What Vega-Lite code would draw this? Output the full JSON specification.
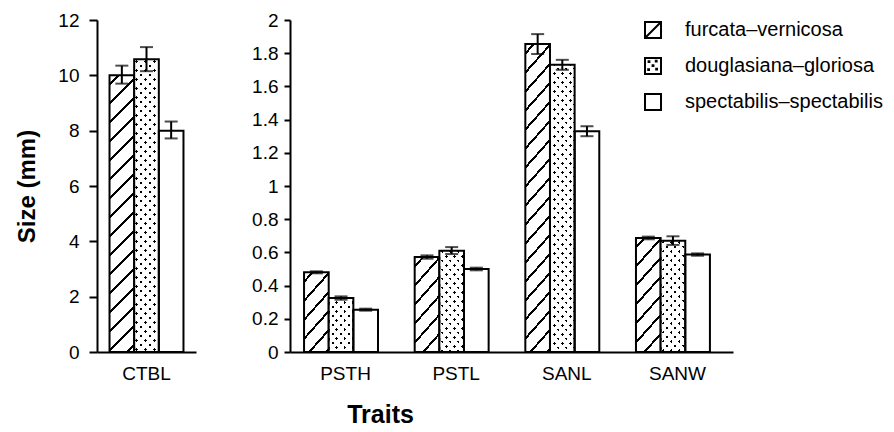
{
"$schema": "https://vega.github.io/schema/vega-lite/v6.json",
"background": "white",
"padding": {"left": 15, "top": 11, "right": 2, "bottom": 2},
"params": [
{"name": "hatchStops", "value": [
{"offset":0.021,"color":"#fff"},{"offset":0.021,"color":"#000"},{"offset":0.029,"color":"#000"},{"offset":0.029,"color":"#fff"},
{"offset":0.071,"color":"#fff"},{"offset":0.071,"color":"#000"},{"offset":0.079,"color":"#000"},{"offset":0.079,"color":"#fff"},
{"offset":0.121,"color":"#fff"},{"offset":0.121,"color":"#000"},{"offset":0.129,"color":"#000"},{"offset":0.129,"color":"#fff"},
{"offset":0.171,"color":"#fff"},{"offset":0.171,"color":"#000"},{"offset":0.179,"color":"#000"},{"offset":0.179,"color":"#fff"},
{"offset":0.221,"color":"#fff"},{"offset":0.221,"color":"#000"},{"offset":0.229,"color":"#000"},{"offset":0.229,"color":"#fff"},
{"offset":0.271,"color":"#fff"},{"offset":0.271,"color":"#000"},{"offset":0.279,"color":"#000"},{"offset":0.279,"color":"#fff"},
{"offset":0.321,"color":"#fff"},{"offset":0.321,"color":"#000"},{"offset":0.329,"color":"#000"},{"offset":0.329,"color":"#fff"},
{"offset":0.371,"color":"#fff"},{"offset":0.371,"color":"#000"},{"offset":0.379,"color":"#000"},{"offset":0.379,"color":"#fff"},
{"offset":0.421,"color":"#fff"},{"offset":0.421,"color":"#000"},{"offset":0.429,"color":"#000"},{"offset":0.429,"color":"#fff"},
{"offset":0.471,"color":"#fff"},{"offset":0.471,"color":"#000"},{"offset":0.479,"color":"#000"},{"offset":0.479,"color":"#fff"},
{"offset":0.521,"color":"#fff"},{"offset":0.521,"color":"#000"},{"offset":0.529,"color":"#000"},{"offset":0.529,"color":"#fff"},
{"offset":0.571,"color":"#fff"},{"offset":0.571,"color":"#000"},{"offset":0.579,"color":"#000"},{"offset":0.579,"color":"#fff"},
{"offset":0.621,"color":"#fff"},{"offset":0.621,"color":"#000"},{"offset":0.629,"color":"#000"},{"offset":0.629,"color":"#fff"},
{"offset":0.671,"color":"#fff"},{"offset":0.671,"color":"#000"},{"offset":0.679,"color":"#000"},{"offset":0.679,"color":"#fff"},
{"offset":0.721,"color":"#fff"},{"offset":0.721,"color":"#000"},{"offset":0.729,"color":"#000"},{"offset":0.729,"color":"#fff"},
{"offset":0.771,"color":"#fff"},{"offset":0.771,"color":"#000"},{"offset":0.779,"color":"#000"},{"offset":0.779,"color":"#fff"},
{"offset":0.821,"color":"#fff"},{"offset":0.821,"color":"#000"},{"offset":0.829,"color":"#000"},{"offset":0.829,"color":"#fff"},
{"offset":0.871,"color":"#fff"},{"offset":0.871,"color":"#000"},{"offset":0.879,"color":"#000"},{"offset":0.879,"color":"#fff"},
{"offset":0.921,"color":"#fff"},{"offset":0.921,"color":"#000"},{"offset":0.929,"color":"#000"},{"offset":0.929,"color":"#fff"}
]},
{"name": "dotStopsA", "value": [
{"offset":0.0085,"color":"#fff"},{"offset":0.0085,"color":"#000"},{"offset":0.0165,"color":"#000"},{"offset":0.0165,"color":"#fff"},
{"offset":0.0335,"color":"#fff"},{"offset":0.0335,"color":"#000"},{"offset":0.0415,"color":"#000"},{"offset":0.0415,"color":"#fff"},
{"offset":0.0585,"color":"#fff"},{"offset":0.0585,"color":"#000"},{"offset":0.0665,"color":"#000"},{"offset":0.0665,"color":"#fff"},
{"offset":0.0835,"color":"#fff"},{"offset":0.0835,"color":"#000"},{"offset":0.0915,"color":"#000"},{"offset":0.0915,"color":"#fff"},
{"offset":0.1085,"color":"#fff"},{"offset":0.1085,"color":"#000"},{"offset":0.1165,"color":"#000"},{"offset":0.1165,"color":"#fff"},
{"offset":0.1335,"color":"#fff"},{"offset":0.1335,"color":"#000"},{"offset":0.1415,"color":"#000"},{"offset":0.1415,"color":"#fff"},
{"offset":0.1585,"color":"#fff"},{"offset":0.1585,"color":"#000"},{"offset":0.1665,"color":"#000"},{"offset":0.1665,"color":"#fff"},
{"offset":0.1835,"color":"#fff"},{"offset":0.1835,"color":"#000"},{"offset":0.1915,"color":"#000"},{"offset":0.1915,"color":"#fff"},
{"offset":0.2085,"color":"#fff"},{"offset":0.2085,"color":"#000"},{"offset":0.2165,"color":"#000"},{"offset":0.2165,"color":"#fff"},
{"offset":0.2335,"color":"#fff"},{"offset":0.2335,"color":"#000"},{"offset":0.2415,"color":"#000"},{"offset":0.2415,"color":"#fff"},
{"offset":0.2585,"color":"#fff"},{"offset":0.2585,"color":"#000"},{"offset":0.2665,"color":"#000"},{"offset":0.2665,"color":"#fff"},
{"offset":0.2835,"color":"#fff"},{"offset":0.2835,"color":"#000"},{"offset":0.2915,"color":"#000"},{"offset":0.2915,"color":"#fff"},
{"offset":0.3085,"color":"#fff"},{"offset":0.3085,"color":"#000"},{"offset":0.3165,"color":"#000"},{"offset":0.3165,"color":"#fff"},
{"offset":0.3335,"color":"#fff"},{"offset":0.3335,"color":"#000"},{"offset":0.3415,"color":"#000"},{"offset":0.3415,"color":"#fff"},
{"offset":0.3585,"color":"#fff"},{"offset":0.3585,"color":"#000"},{"offset":0.3665,"color":"#000"},{"offset":0.3665,"color":"#fff"},
{"offset":0.3835,"color":"#fff"},{"offset":0.3835,"color":"#000"},{"offset":0.3915,"color":"#000"},{"offset":0.3915,"color":"#fff"},
{"offset":0.4085,"color":"#fff"},{"offset":0.4085,"color":"#000"},{"offset":0.4165,"color":"#000"},{"offset":0.4165,"color":"#fff"},
{"offset":0.4335,"color":"#fff"},{"offset":0.4335,"color":"#000"},{"offset":0.4415,"color":"#000"},{"offset":0.4415,"color":"#fff"},
{"offset":0.4585,"color":"#fff"},{"offset":0.4585,"color":"#000"},{"offset":0.4665,"color":"#000"},{"offset":0.4665,"color":"#fff"},
{"offset":0.4835,"color":"#fff"},{"offset":0.4835,"color":"#000"},{"offset":0.4915,"color":"#000"},{"offset":0.4915,"color":"#fff"},
{"offset":0.5085,"color":"#fff"},{"offset":0.5085,"color":"#000"},{"offset":0.5165,"color":"#000"},{"offset":0.5165,"color":"#fff"},
{"offset":0.5335,"color":"#fff"},{"offset":0.5335,"color":"#000"},{"offset":0.5415,"color":"#000"},{"offset":0.5415,"color":"#fff"},
{"offset":0.5585,"color":"#fff"},{"offset":0.5585,"color":"#000"},{"offset":0.5665,"color":"#000"},{"offset":0.5665,"color":"#fff"},
{"offset":0.5835,"color":"#fff"},{"offset":0.5835,"color":"#000"},{"offset":0.5915,"color":"#000"},{"offset":0.5915,"color":"#fff"},
{"offset":0.6085,"color":"#fff"},{"offset":0.6085,"color":"#000"},{"offset":0.6165,"color":"#000"},{"offset":0.6165,"color":"#fff"},
{"offset":0.6335,"color":"#fff"},{"offset":0.6335,"color":"#000"},{"offset":0.6415,"color":"#000"},{"offset":0.6415,"color":"#fff"},
{"offset":0.6585,"color":"#fff"},{"offset":0.6585,"color":"#000"},{"offset":0.6665,"color":"#000"},{"offset":0.6665,"color":"#fff"},
{"offset":0.6835,"color":"#fff"},{"offset":0.6835,"color":"#000"},{"offset":0.6915,"color":"#000"},{"offset":0.6915,"color":"#fff"},
{"offset":0.7085,"color":"#fff"},{"offset":0.7085,"color":"#000"},{"offset":0.7165,"color":"#000"},{"offset":0.7165,"color":"#fff"},
{"offset":0.7335,"color":"#fff"},{"offset":0.7335,"color":"#000"},{"offset":0.7415,"color":"#000"},{"offset":0.7415,"color":"#fff"},
{"offset":0.7585,"color":"#fff"},{"offset":0.7585,"color":"#000"},{"offset":0.7665,"color":"#000"},{"offset":0.7665,"color":"#fff"},
{"offset":0.7835,"color":"#fff"},{"offset":0.7835,"color":"#000"},{"offset":0.7915,"color":"#000"},{"offset":0.7915,"color":"#fff"},
{"offset":0.8085,"color":"#fff"},{"offset":0.8085,"color":"#000"},{"offset":0.8165,"color":"#000"},{"offset":0.8165,"color":"#fff"},
{"offset":0.8335,"color":"#fff"},{"offset":0.8335,"color":"#000"},{"offset":0.8415,"color":"#000"},{"offset":0.8415,"color":"#fff"},
{"offset":0.8585,"color":"#fff"},{"offset":0.8585,"color":"#000"},{"offset":0.8665,"color":"#000"},{"offset":0.8665,"color":"#fff"},
{"offset":0.8835,"color":"#fff"},{"offset":0.8835,"color":"#000"},{"offset":0.8915,"color":"#000"},{"offset":0.8915,"color":"#fff"},
{"offset":0.9085,"color":"#fff"},{"offset":0.9085,"color":"#000"},{"offset":0.9165,"color":"#000"},{"offset":0.9165,"color":"#fff"}
]},
{"name": "dotStopsB", "value": [
{"offset":0.0085,"color":"#fff"},{"offset":0.0085,"color":"rgba(255,255,255,0)"},{"offset":0.0165,"color":"rgba(255,255,255,0)"},{"offset":0.0165,"color":"#fff"},
{"offset":0.0335,"color":"#fff"},{"offset":0.0335,"color":"rgba(255,255,255,0)"},{"offset":0.0415,"color":"rgba(255,255,255,0)"},{"offset":0.0415,"color":"#fff"},
{"offset":0.0585,"color":"#fff"},{"offset":0.0585,"color":"rgba(255,255,255,0)"},{"offset":0.0665,"color":"rgba(255,255,255,0)"},{"offset":0.0665,"color":"#fff"},
{"offset":0.0835,"color":"#fff"},{"offset":0.0835,"color":"rgba(255,255,255,0)"},{"offset":0.0915,"color":"rgba(255,255,255,0)"},{"offset":0.0915,"color":"#fff"},
{"offset":0.1085,"color":"#fff"},{"offset":0.1085,"color":"rgba(255,255,255,0)"},{"offset":0.1165,"color":"rgba(255,255,255,0)"},{"offset":0.1165,"color":"#fff"},
{"offset":0.1335,"color":"#fff"},{"offset":0.1335,"color":"rgba(255,255,255,0)"},{"offset":0.1415,"color":"rgba(255,255,255,0)"},{"offset":0.1415,"color":"#fff"},
{"offset":0.1585,"color":"#fff"},{"offset":0.1585,"color":"rgba(255,255,255,0)"},{"offset":0.1665,"color":"rgba(255,255,255,0)"},{"offset":0.1665,"color":"#fff"},
{"offset":0.1835,"color":"#fff"},{"offset":0.1835,"color":"rgba(255,255,255,0)"},{"offset":0.1915,"color":"rgba(255,255,255,0)"},{"offset":0.1915,"color":"#fff"},
{"offset":0.2085,"color":"#fff"},{"offset":0.2085,"color":"rgba(255,255,255,0)"},{"offset":0.2165,"color":"rgba(255,255,255,0)"},{"offset":0.2165,"color":"#fff"},
{"offset":0.2335,"color":"#fff"},{"offset":0.2335,"color":"rgba(255,255,255,0)"},{"offset":0.2415,"color":"rgba(255,255,255,0)"},{"offset":0.2415,"color":"#fff"},
{"offset":0.2585,"color":"#fff"},{"offset":0.2585,"color":"rgba(255,255,255,0)"},{"offset":0.2665,"color":"rgba(255,255,255,0)"},{"offset":0.2665,"color":"#fff"},
{"offset":0.2835,"color":"#fff"},{"offset":0.2835,"color":"rgba(255,255,255,0)"},{"offset":0.2915,"color":"rgba(255,255,255,0)"},{"offset":0.2915,"color":"#fff"},
{"offset":0.3085,"color":"#fff"},{"offset":0.3085,"color":"rgba(255,255,255,0)"},{"offset":0.3165,"color":"rgba(255,255,255,0)"},{"offset":0.3165,"color":"#fff"},
{"offset":0.3335,"color":"#fff"},{"offset":0.3335,"color":"rgba(255,255,255,0)"},{"offset":0.3415,"color":"rgba(255,255,255,0)"},{"offset":0.3415,"color":"#fff"},
{"offset":0.3585,"color":"#fff"},{"offset":0.3585,"color":"rgba(255,255,255,0)"},{"offset":0.3665,"color":"rgba(255,255,255,0)"},{"offset":0.3665,"color":"#fff"},
{"offset":0.3835,"color":"#fff"},{"offset":0.3835,"color":"rgba(255,255,255,0)"},{"offset":0.3915,"color":"rgba(255,255,255,0)"},{"offset":0.3915,"color":"#fff"},
{"offset":0.4085,"color":"#fff"},{"offset":0.4085,"color":"rgba(255,255,255,0)"},{"offset":0.4165,"color":"rgba(255,255,255,0)"},{"offset":0.4165,"color":"#fff"},
{"offset":0.4335,"color":"#fff"},{"offset":0.4335,"color":"rgba(255,255,255,0)"},{"offset":0.4415,"color":"rgba(255,255,255,0)"},{"offset":0.4415,"color":"#fff"},
{"offset":0.4585,"color":"#fff"},{"offset":0.4585,"color":"rgba(255,255,255,0)"},{"offset":0.4665,"color":"rgba(255,255,255,0)"},{"offset":0.4665,"color":"#fff"},
{"offset":0.4835,"color":"#fff"},{"offset":0.4835,"color":"rgba(255,255,255,0)"},{"offset":0.4915,"color":"rgba(255,255,255,0)"},{"offset":0.4915,"color":"#fff"},
{"offset":0.5085,"color":"#fff"},{"offset":0.5085,"color":"rgba(255,255,255,0)"},{"offset":0.5165,"color":"rgba(255,255,255,0)"},{"offset":0.5165,"color":"#fff"},
{"offset":0.5335,"color":"#fff"},{"offset":0.5335,"color":"rgba(255,255,255,0)"},{"offset":0.5415,"color":"rgba(255,255,255,0)"},{"offset":0.5415,"color":"#fff"},
{"offset":0.5585,"color":"#fff"},{"offset":0.5585,"color":"rgba(255,255,255,0)"},{"offset":0.5665,"color":"rgba(255,255,255,0)"},{"offset":0.5665,"color":"#fff"},
{"offset":0.5835,"color":"#fff"},{"offset":0.5835,"color":"rgba(255,255,255,0)"},{"offset":0.5915,"color":"rgba(255,255,255,0)"},{"offset":0.5915,"color":"#fff"},
{"offset":0.6085,"color":"#fff"},{"offset":0.6085,"color":"rgba(255,255,255,0)"},{"offset":0.6165,"color":"rgba(255,255,255,0)"},{"offset":0.6165,"color":"#fff"},
{"offset":0.6335,"color":"#fff"},{"offset":0.6335,"color":"rgba(255,255,255,0)"},{"offset":0.6415,"color":"rgba(255,255,255,0)"},{"offset":0.6415,"color":"#fff"},
{"offset":0.6585,"color":"#fff"},{"offset":0.6585,"color":"rgba(255,255,255,0)"},{"offset":0.6665,"color":"rgba(255,255,255,0)"},{"offset":0.6665,"color":"#fff"},
{"offset":0.6835,"color":"#fff"},{"offset":0.6835,"color":"rgba(255,255,255,0)"},{"offset":0.6915,"color":"rgba(255,255,255,0)"},{"offset":0.6915,"color":"#fff"},
{"offset":0.7085,"color":"#fff"},{"offset":0.7085,"color":"rgba(255,255,255,0)"},{"offset":0.7165,"color":"rgba(255,255,255,0)"},{"offset":0.7165,"color":"#fff"},
{"offset":0.7335,"color":"#fff"},{"offset":0.7335,"color":"rgba(255,255,255,0)"},{"offset":0.7415,"color":"rgba(255,255,255,0)"},{"offset":0.7415,"color":"#fff"},
{"offset":0.7585,"color":"#fff"},{"offset":0.7585,"color":"rgba(255,255,255,0)"},{"offset":0.7665,"color":"rgba(255,255,255,0)"},{"offset":0.7665,"color":"#fff"},
{"offset":0.7835,"color":"#fff"},{"offset":0.7835,"color":"rgba(255,255,255,0)"},{"offset":0.7915,"color":"rgba(255,255,255,0)"},{"offset":0.7915,"color":"#fff"},
{"offset":0.8085,"color":"#fff"},{"offset":0.8085,"color":"rgba(255,255,255,0)"},{"offset":0.8165,"color":"rgba(255,255,255,0)"},{"offset":0.8165,"color":"#fff"},
{"offset":0.8335,"color":"#fff"},{"offset":0.8335,"color":"rgba(255,255,255,0)"},{"offset":0.8415,"color":"rgba(255,255,255,0)"},{"offset":0.8415,"color":"#fff"},
{"offset":0.8585,"color":"#fff"},{"offset":0.8585,"color":"rgba(255,255,255,0)"},{"offset":0.8665,"color":"rgba(255,255,255,0)"},{"offset":0.8665,"color":"#fff"},
{"offset":0.8835,"color":"#fff"},{"offset":0.8835,"color":"rgba(255,255,255,0)"},{"offset":0.8915,"color":"rgba(255,255,255,0)"},{"offset":0.8915,"color":"#fff"},
{"offset":0.9085,"color":"#fff"},{"offset":0.9085,"color":"rgba(255,255,255,0)"},{"offset":0.9165,"color":"rgba(255,255,255,0)"},{"offset":0.9165,"color":"#fff"}
]}
],
"data": {"values": [
{"trait":"CTBL","series":"furcata–vernicosa","mean":10.0,"lo":9.7,"hi":10.35},
{"trait":"CTBL","series":"douglasiana–gloriosa","mean":10.58,"lo":10.15,"hi":11.02},
{"trait":"CTBL","series":"spectabilis–spectabilis","mean":8.0,"lo":7.72,"hi":8.33},
{"trait":"PSTH","series":"furcata–vernicosa","mean":0.48,"lo":0.474,"hi":0.486},
{"trait":"PSTH","series":"douglasiana–gloriosa","mean":0.325,"lo":0.315,"hi":0.335},
{"trait":"PSTH","series":"spectabilis–spectabilis","mean":0.255,"lo":0.249,"hi":0.261},
{"trait":"PSTL","series":"furcata–vernicosa","mean":0.572,"lo":0.562,"hi":0.582},
{"trait":"PSTL","series":"douglasiana–gloriosa","mean":0.61,"lo":0.59,"hi":0.632},
{"trait":"PSTL","series":"spectabilis–spectabilis","mean":0.5,"lo":0.492,"hi":0.508},
{"trait":"SANL","series":"furcata–vernicosa","mean":1.855,"lo":1.795,"hi":1.915},
{"trait":"SANL","series":"douglasiana–gloriosa","mean":1.73,"lo":1.7,"hi":1.76},
{"trait":"SANL","series":"spectabilis–spectabilis","mean":1.33,"lo":1.3,"hi":1.36},
{"trait":"SANW","series":"furcata–vernicosa","mean":0.687,"lo":0.679,"hi":0.695},
{"trait":"SANW","series":"douglasiana–gloriosa","mean":0.67,"lo":0.645,"hi":0.697},
{"trait":"SANW","series":"spectabilis–spectabilis","mean":0.587,"lo":0.58,"hi":0.594}
]},
"spacing": 55,
"hconcat": [
{
"width": 99, "height": 332,
"transform": [{"filter": "datum.trait === 'CTBL'"}],
"encoding": {
"x": {"field": "trait", "type": "nominal", "title": null, "scale": {"paddingInner": 0.25, "paddingOuter": 0.127}, "axis": {"ticks": false, "labelAngle": 0, "labelPadding": 12}},
"xOffset": {"field": "series", "type": "nominal", "scale": {"domain": ["furcata–vernicosa", "douglasiana–gloriosa", "spectabilis–spectabilis"], "paddingInner": 0, "paddingOuter": 0}}
},
"layer": [
{"mark": {"type": "bar", "strokeWidth": 0, "fill": {"expr": "datum.series === 'furcata–vernicosa' ? {gradient: 'linear', x1: 0, y1: 0, x2: 380 * 24.65 / (607.62 + pow(27.667 * datum.mean, 2)), y2: 380 * 27.667 * datum.mean / (607.62 + pow(27.667 * datum.mean, 2)), stops: hatchStops} : datum.series === 'douglasiana–gloriosa' ? {gradient: 'linear', x1: 0, y1: 0, x2: 360 * 24.65 / (607.62 + pow(27.667 * datum.mean, 2)), y2: 360 * 27.667 * datum.mean / (607.62 + pow(27.667 * datum.mean, 2)), stops: dotStopsA} : '#ffffff'"}},
 "encoding": {"y": {"field": "mean", "type": "quantitative", "title": "Size (mm)", "scale": {"domain": [0, 12], "nice": false}, "axis": {"values": [0, 2, 4, 6, 8, 10, 12], "tickSize": 8, "labelPadding": 10, "titlePadding": 18}}}},
{"mark": {"type": "bar", "stroke": "black", "strokeWidth": 2, "fill": {"expr": "datum.series === 'douglasiana–gloriosa' ? {gradient: 'linear', x1: 0, y1: 1, x2: 360 * 24.65 / (607.62 + pow(27.667 * datum.mean, 2)), y2: 1 - 360 * 27.667 * datum.mean / (607.62 + pow(27.667 * datum.mean, 2)), stops: dotStopsB} : 'rgba(0,0,0,0)'"}},
 "encoding": {"y": {"field": "mean", "type": "quantitative", "title": "Size (mm)", "scale": {"domain": [0, 12], "nice": false}, "axis": {"values": [0, 2, 4, 6, 8, 10, 12], "tickSize": 8, "labelPadding": 10, "titlePadding": 18}}}},
{"mark": {"type": "rule", "color": "black", "strokeWidth": 2},
 "encoding": {"y": {"field": "lo", "type": "quantitative", "title": "Size (mm)", "scale": {"domain": [0, 12], "nice": false}, "axis": {"values": [0, 2, 4, 6, 8, 10, 12], "tickSize": 8, "labelPadding": 10, "titlePadding": 18}}, "y2": {"field": "hi"}}},
{"mark": {"type": "tick", "color": "black", "thickness": 2, "size": 13, "orient": "horizontal"},
 "encoding": {"y": {"field": "hi", "type": "quantitative", "title": "Size (mm)", "scale": {"domain": [0, 12], "nice": false}, "axis": {"values": [0, 2, 4, 6, 8, 10, 12], "tickSize": 8, "labelPadding": 10, "titlePadding": 18}}}},
{"mark": {"type": "tick", "color": "black", "thickness": 2, "size": 13, "orient": "horizontal"},
 "encoding": {"y": {"field": "lo", "type": "quantitative", "title": "Size (mm)", "scale": {"domain": [0, 12], "nice": false}, "axis": {"values": [0, 2, 4, 6, 8, 10, 12], "tickSize": 8, "labelPadding": 10, "titlePadding": 18}}}}
]
},
{
"width": 443, "height": 332,
"transform": [{"filter": "datum.trait !== 'CTBL'"}],
"encoding": {
"x": {"field": "trait", "type": "nominal", "title": "Traits", "scale": {"paddingInner": 0.25, "paddingOuter": 0.127}, "axis": {"ticks": false, "labelAngle": 0, "labelPadding": 12, "titleX": 90, "titlePadding": 19}},
"xOffset": {"field": "series", "type": "nominal", "scale": {"domain": ["furcata–vernicosa", "douglasiana–gloriosa", "spectabilis–spectabilis"], "paddingInner": 0, "paddingOuter": 0}}
},
"layer": [
{"mark": {"type": "bar", "strokeWidth": 0, "fill": {"expr": "datum.series === 'furcata–vernicosa' ? {gradient: 'linear', x1: 0, y1: 0, x2: 380 * 27.66 / (765.08 + pow(166 * datum.mean, 2)), y2: 380 * 166 * datum.mean / (765.08 + pow(166 * datum.mean, 2)), stops: hatchStops} : datum.series === 'douglasiana–gloriosa' ? {gradient: 'linear', x1: 0, y1: 0, x2: 360 * 27.66 / (765.08 + pow(166 * datum.mean, 2)), y2: 360 * 166 * datum.mean / (765.08 + pow(166 * datum.mean, 2)), stops: dotStopsA} : '#ffffff'"}},
 "encoding": {"y": {"field": "mean", "type": "quantitative", "title": null, "scale": {"domain": [0, 2], "nice": false}, "axis": {"values": [0, 0.2, 0.4, 0.6, 0.8, 1, 1.2, 1.4, 1.6, 1.8, 2], "format": ".1~f", "tickSize": 6, "labelPadding": 6}}}},
{"mark": {"type": "bar", "stroke": "black", "strokeWidth": 2, "fill": {"expr": "datum.series === 'douglasiana–gloriosa' ? {gradient: 'linear', x1: 0, y1: 1, x2: 360 * 27.66 / (765.08 + pow(166 * datum.mean, 2)), y2: 1 - 360 * 166 * datum.mean / (765.08 + pow(166 * datum.mean, 2)), stops: dotStopsB} : 'rgba(0,0,0,0)'"}},
 "encoding": {"y": {"field": "mean", "type": "quantitative", "title": null, "scale": {"domain": [0, 2], "nice": false}, "axis": {"values": [0, 0.2, 0.4, 0.6, 0.8, 1, 1.2, 1.4, 1.6, 1.8, 2], "format": ".1~f", "tickSize": 6, "labelPadding": 6}}}},
{"mark": {"type": "point", "color": "black", "opacity": 0, "strokeWidth": 2, "size": 256},
 "encoding": {
  "y": {"field": "mean", "type": "quantitative", "title": null, "scale": {"domain": [0, 2], "nice": false}, "axis": {"values": [0, 0.2, 0.4, 0.6, 0.8, 1, 1.2, 1.4, 1.6, 1.8, 2], "format": ".1~f", "tickSize": 6, "labelPadding": 6}},
  "shape": {"field": "series", "type": "nominal", "scale": {"domain": ["furcata–vernicosa", "douglasiana–gloriosa", "spectabilis–spectabilis"], "range": ["M-1,-1H1V1H-1ZM-1,1L1,-1", "M-1,-1H1V1H-1ZM-0.55,-0.6h0.1v0.1h-0.1zM0.35,-0.65h0.1v0.1h-0.1zM-0.05,-0.1h0.1v0.1h-0.1zM-0.6,0.4h0.1v0.1h-0.1zM0.4,0.35h0.1v0.1h-0.1z", "M-1,-1H1V1H-1Z"]},
   "legend": {"orient": "right", "offset": -90, "title": null, "padding": 0, "symbolSize": 256, "symbolStrokeColor": "black", "symbolStrokeWidth": 2, "symbolFillColor": "transparent", "symbolOpacity": 1, "labelFontSize": 20, "labelFont": "Liberation Sans", "labelColor": "black", "labelOffset": 22, "rowPadding": 12, "labelLimit": 400}}
 }},
{"mark": {"type": "rule", "color": "black", "strokeWidth": 2},
 "encoding": {"y": {"field": "lo", "type": "quantitative", "title": null, "scale": {"domain": [0, 2], "nice": false}, "axis": {"values": [0, 0.2, 0.4, 0.6, 0.8, 1, 1.2, 1.4, 1.6, 1.8, 2], "format": ".1~f", "tickSize": 6, "labelPadding": 6}}, "y2": {"field": "hi"}}},
{"mark": {"type": "tick", "color": "black", "thickness": 2, "size": 13, "orient": "horizontal"},
 "encoding": {"y": {"field": "hi", "type": "quantitative", "title": null, "scale": {"domain": [0, 2], "nice": false}, "axis": {"values": [0, 0.2, 0.4, 0.6, 0.8, 1, 1.2, 1.4, 1.6, 1.8, 2], "format": ".1~f", "tickSize": 6, "labelPadding": 6}}}},
{"mark": {"type": "tick", "color": "black", "thickness": 2, "size": 13, "orient": "horizontal"},
 "encoding": {"y": {"field": "lo", "type": "quantitative", "title": null, "scale": {"domain": [0, 2], "nice": false}, "axis": {"values": [0, 0.2, 0.4, 0.6, 0.8, 1, 1.2, 1.4, 1.6, 1.8, 2], "format": ".1~f", "tickSize": 6, "labelPadding": 6}}}}
]
}
],
"config": {
"view": {"stroke": null},
"font": "Liberation Sans",
"axis": {"domainColor": "black", "domainWidth": 2, "tickColor": "black", "tickWidth": 2, "labelColor": "black", "labelFont": "Liberation Sans", "labelFontSize": 19, "titleFont": "Liberation Sans", "titleFontWeight": "bold", "titleColor": "black", "grid": false},
"axisX": {"titleFontSize": 25},
"axisY": {"titleFontSize": 24}
}
}
